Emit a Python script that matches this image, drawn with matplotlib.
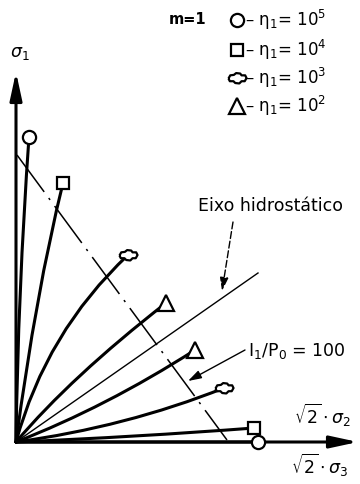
import numpy as np
import matplotlib.pyplot as plt
from matplotlib.path import Path
from matplotlib.patches import PathPatch

# end points of the stress paths (x = sqrt(2)*sigma3, y = sigma1), one per eta value
# order: circle, square, blob, triangle (upper branch) then the same for the lower branch
markers = ['o', 's', 'blob', '^']
upper_end = [(13, 305), (47, 259), (112, 187), (150, 139)]
upper_ctrl = [(2, 150), (20, 150), (30, 110), (55, 65)]
lower_end = [(242, 0), (238, 14), (208, 54), (179, 92)]
lower_ctrl = [(120, 0), (120, 5), (110, 15), (90, 35)]

hydro_end = (242, 169)            # hydrostatic axis
plane_line = [(1, 287), (211, 2)]  # I1/P0 = 100 section

legend_labels = ['– η$_1$= 10$^5$', '– η$_1$= 10$^4$',
                 '– η$_1$= 10$^3$', '– η$_1$= 10$^2$']

# lumpy "cloud" marker used for eta = 10^3
blob = [(-1.0, 0.0), (-0.8, 0.35), (-0.4, 0.4), (-0.15, 0.6), (0.3, 0.55),
        (0.45, 0.35), (0.85, 0.35), (1.0, 0.05), (0.8, -0.3), (0.45, -0.3),
        (0.2, -0.55), (-0.25, -0.5), (-0.45, -0.3), (-0.85, -0.3), (-1.0, 0.0)]
marker_style = {'o': dict(marker='o', ms=9.5),
                's': dict(marker='s', ms=9.0),
                'blob': dict(marker=blob, ms=13),
                '^': dict(marker='^', ms=11)}

fig = plt.figure(figsize=(3.6, 4.84), dpi=100)
ax = fig.add_axes([0, 0, 1, 1])
ax.set_xlim(-16, 344)
ax.set_ylim(-42, 442)
ax.axis('off')

def curve(ctrl, end):
    p = Path([(0, 0), ctrl, end], [Path.MOVETO, Path.CURVE3, Path.CURVE3])
    ax.add_patch(PathPatch(p, fill=False, lw=2.2, capstyle='round', zorder=3))

for m, c, e in zip(markers, upper_ctrl, upper_end):
    curve(c, e)
    ax.plot(*e, ls='none', mfc='white', mec='black', mew=1.6, zorder=5, **marker_style[m])
for m, c, e in zip(markers, lower_ctrl, lower_end):
    curve(c, e)
    ax.plot(*e, ls='none', mfc='white', mec='black', mew=1.6, zorder=5, **marker_style[m])

# axes arrows
arr = dict(arrowstyle='-|>,head_length=1.2,head_width=0.26', lw=2.2, color='black',
           shrinkA=0, shrinkB=0, mutation_scale=14)
ax.annotate('', xy=(0, 370), xytext=(0, 0), arrowprops=arr, zorder=4)
ax.annotate('', xy=(342, 0), xytext=(0, 0), arrowprops=arr, zorder=4)

# hydrostatic axis and the I1/P0 section
ax.plot([0, hydro_end[0]], [0, hydro_end[1]], color='black', lw=1.0, zorder=2)
ax.plot([plane_line[0][0], plane_line[1][0]], [plane_line[0][1], plane_line[1][1]],
        color='black', lw=1.1, dashes=(30, 5, 1.5, 5), zorder=2)

# leaders
lead = dict(arrowstyle='-|>,head_length=0.8,head_width=0.25', lw=1.0, color='black',
            shrinkA=0, shrinkB=0, mutation_scale=10)
ax.annotate('', xy=(206, 151), xytext=(217, 220),
            arrowprops=dict(lead, linestyle=(0, (5, 2))))
ax.annotate('', xy=(172, 61), xytext=(229, 92), arrowprops=lead)

fs = 12.5
ax.text(254, 236, 'Eixo hidrostático', ha='center', va='center', fontsize=fs)
ax.text(281, 91, 'I$_1$/P$_0$ = 100', ha='center', va='center', fontsize=fs)
ax.text(4, 389, r'$\sigma_1$', ha='center', va='center', fontsize=fs)
ax.text(307, 27, r'$\sqrt{2}\cdot\sigma_2$', ha='center', va='center', fontsize=fs)
ax.text(304, -23, r'$\sqrt{2}\cdot\sigma_3$', ha='center', va='center', fontsize=fs)

# legend block
ax.text(172, 422, 'm=1', ha='center', va='center', fontsize=10.5, fontweight='bold')
leg_y = [422, 392, 364, 336]
for m, y, lab in zip(markers, leg_y, legend_labels):
    ax.plot(221, y, ls='none', mfc='white', mec='black', mew=1.6, **marker_style[m])
    ax.text(229, y, lab, ha='left', va='center', fontsize=12)

fig.savefig('out.png', dpi=100)
